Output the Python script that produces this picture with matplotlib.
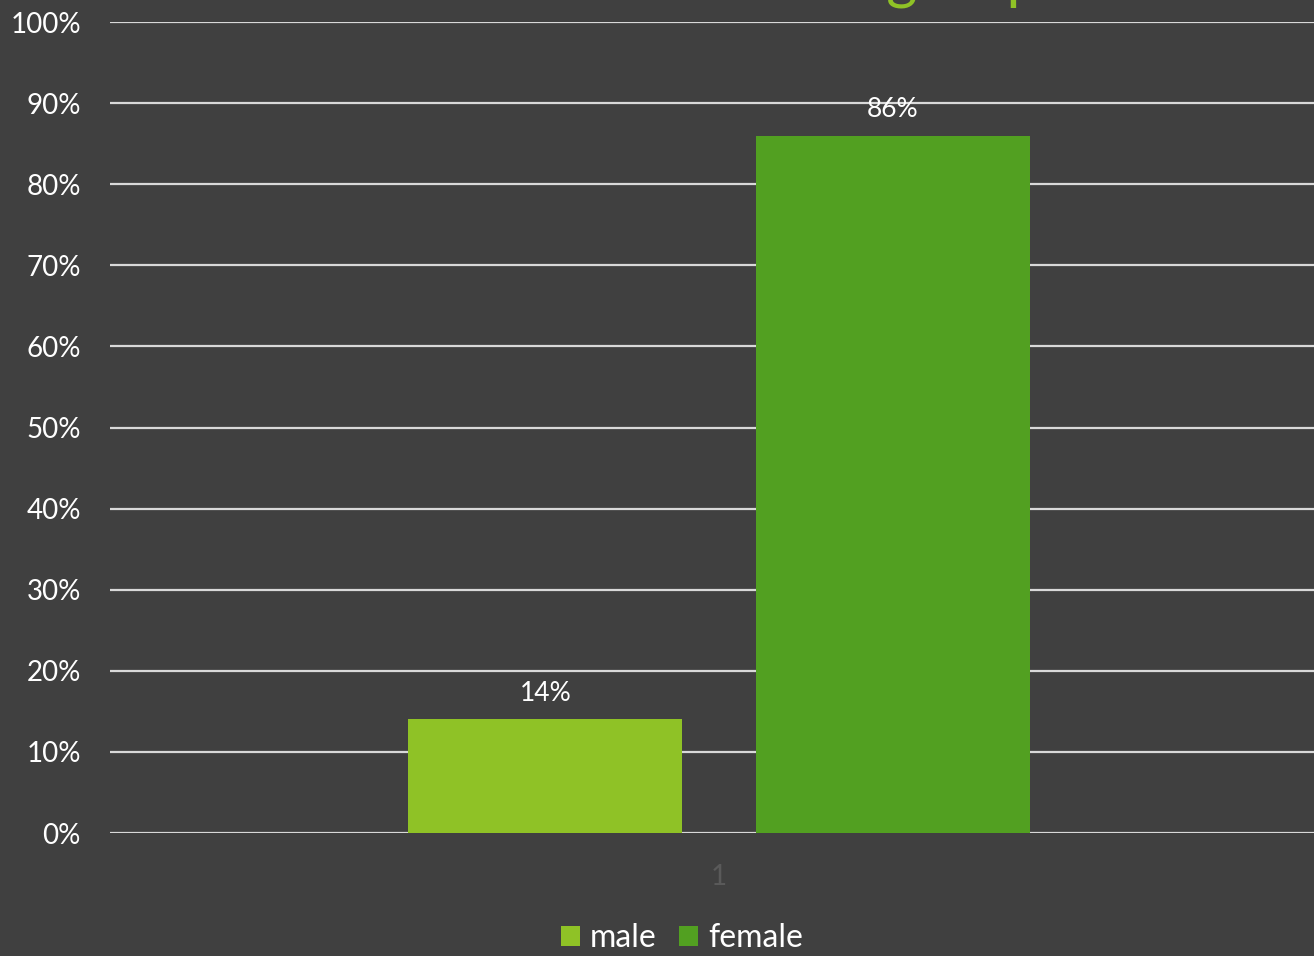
import matplotlib as mpl
import matplotlib.pyplot as plt

# chart data
categories = ['1']
series_names = ['male', 'female']
series_values = [0.14, 0.86]
series_colors = ['#8FC226', '#52A021']
title_text = 'Gender in the group'

BG = '#404040'

mpl.rc('font', family=['Lato', 'DejaVu Sans'])

fig = plt.figure(figsize=(13.14, 9.56), dpi=100, facecolor=BG)
# plot area runs a little past the right edge, as in the reference crop
axes = fig.add_axes([110 / 1314, 1 - 833 / 956, 1218 / 1314, (833 - 22) / 956])
axes.set_facecolor(BG)

width = 0.225
offsets = [-0.1425, 0.1425]
for name, val, col, off in zip(series_names, series_values, series_colors, offsets):
    axes.bar(0 + off, val, width=width, color=col, label=name, zorder=3)
    axes.text(0 + off, val + 0.017, '{:.0f}%'.format(val * 100), ha='center', va='bottom',
              color='white', fontsize=19)

axes.set_xlim(-0.5, 0.5)
axes.set_ylim(0, 1)
axes.set_yticks([i / 10 for i in range(11)])
axes.set_yticklabels(['{}%'.format(i * 10) for i in range(11)], color='white', fontsize=20)
axes.set_xticks([0])
axes.set_xticklabels(categories, color='#5a5a5a', fontsize=20)
axes.tick_params(axis='y', length=0, pad=21)
axes.tick_params(axis='x', length=0, pad=22)

axes.grid(axis='y', color='#d9d9d9', linewidth=1.6, zorder=0)
for s in axes.spines.values():
    s.set_visible(False)

leg = fig.legend(loc='lower center', bbox_to_anchor=(0.519, -0.027), ncol=2,
                 frameon=False, fontsize=23, handlelength=0.6, handleheight=0.6,
                 handletextpad=0.3, columnspacing=0.7)
for t in leg.get_texts():
    t.set_color('white')

# title sits mostly above the visible canvas, only descenders show
fig.text(1040 / 1314, 1 + 2 / 956, title_text, ha='right', va='baseline',
         color='#8FC226', fontsize=43)

fig.savefig('out.png', dpi=100, facecolor=BG)
